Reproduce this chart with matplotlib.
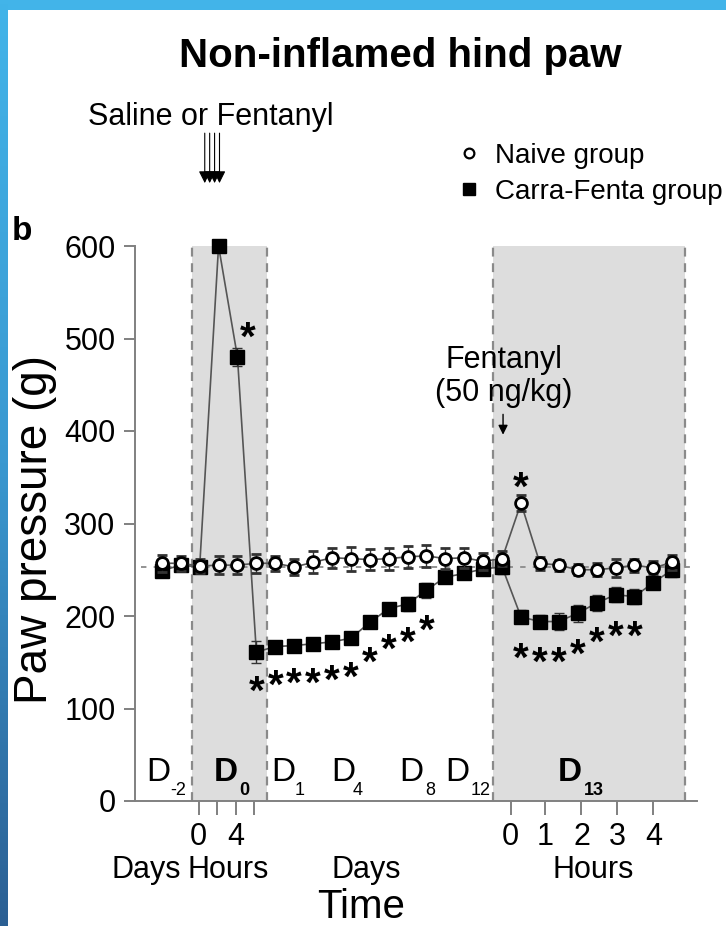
import numpy as np
import matplotlib
matplotlib.use("Agg")
import matplotlib.pyplot as plt
from matplotlib.lines import Line2D

plt.rcParams['font.family'] = ['Liberation Sans', 'DejaVu Sans']

# sampling points: 2 baseline days, D0 (4 hourly reads), D1..D12, D13 (half-hourly reads)
naive = [257, 257, 254, 255, 255, 257, 257, 253, 258, 263, 262, 261, 262, 264,
         265, 262, 263, 259, 262, 322, 257, 255, 250, 250, 252, 255, 252, 258]
naive_err = [9, 8, 8, 10, 10, 10, 8, 9, 12, 11, 13, 11, 12, 12,
             12, 11, 11, 9, 8, 9, 7, 6, 6, 7, 10, 7, 7, 8]
carra = [249, 255, 253, 600, 480, 161, 167, 168, 170, 172, 176, 193, 208, 213,
         228, 242, 246, 251, 253, 199, 194, 194, 203, 214, 223, 221, 236, 250]
carra_err = [6, 6, 6, 0, 10, 12, 6, 6, 6, 6, 6, 6, 6, 8,
             8, 6, 6, 6, 8, 7, 7, 9, 9, 9, 8, 8, 7, 8]

# significance marks (x position, y position)
star_x = [4.55, 5, 6, 7, 8, 9, 10, 11, 12, 13, 14, 19, 19, 20, 21, 22, 23, 24, 25]
star_y = [512, 129, 136, 138, 138, 141, 144, 161, 174, 182, 195, 350,
          165, 161, 161, 169, 182, 189, 189]

tick_pos = [1.95, 2.9, 3.9, 4.85, 18.45, 20.25, 22.2, 24.1, 26.0]
tick_lab = ['0', '', '4', '', '0', '1', '2', '3', '4']

day_labels = ['D', 'D', 'D', 'D', 'D', 'D', 'D']
day_subs = ['-2', '0', '1', '4', '8', '12', '13']
day_bold = [False, True, False, False, False, False, True]
day_x = [-0.8, 2.75, 5.8, 8.95, 12.55, 15.0, 20.95]
sub_x = [0.45, 4.1, 7.05, 10.1, 13.95, 16.35, 22.3]

baseline = 253

fig = plt.figure(figsize=(7.26, 9.26), dpi=100)
ax = fig.add_axes([135/726, 125/926, 562/726, 555/926])
idx = np.arange(len(naive))

# shaded treatment windows and their dashed borders
for x0, x1 in [(1.58, 5.55), (17.5, 27.7)]:
    ax.axvspan(x0, x1, ymin=0, ymax=1, color='#dddddd', lw=0, zorder=0)
    for xv in (x0, x1):
        ax.plot([xv, xv], [0, 600], color='#8a8a8a', lw=1.6,
                ls=(0, (4, 3)), zorder=1, clip_on=False)

ax.plot([-1.1, 28.3], [baseline, baseline], color='#8a8a8a', lw=1.3,
        ls=(0, (3, 4)), zorder=1, clip_on=False)

ax.errorbar(idx, carra, yerr=carra_err, fmt='s', ms=10, mfc='black', mec='black',
            color='#333333', ecolor='#333333', elinewidth=1, capsize=3.5,
            zorder=3, clip_on=False)
ax.plot(idx, carra, color='#555555', lw=1.2, zorder=2, clip_on=False)

ax.errorbar(idx, naive, yerr=naive_err, fmt='o', ms=8.5, mfc='white', mec='black',
            mew=2, ecolor='#333333', elinewidth=1, capsize=3.5, zorder=5,
            clip_on=False)
ax.plot(idx, naive, color='#555555', lw=1.2, zorder=4, clip_on=False)

for sx, sy in zip(star_x, star_y):
    ax.annotate('*', (sx, sy), xytext=(0, -16), textcoords='offset points',
                ha='center', va='baseline', fontsize=29, fontweight='bold',
                annotation_clip=False, zorder=6)

ax.set_xlim(-1.42, 28.31)
ax.set_ylim(0, 600)
ax.set_yticks([0, 100, 200, 300, 400, 500, 600])
ax.set_xticks(tick_pos)
ax.set_xticklabels(tick_lab)
ax.tick_params(axis='both', labelsize=22, color='#808080', width=1.4)
ax.tick_params(axis='y', length=8, pad=6)
ax.tick_params(axis='x', length=10, pad=5)
for s in ['top', 'right']:
    ax.spines[s].set_visible(False)
for s in ['left', 'bottom']:
    ax.spines[s].set_color('#808080')
    ax.spines[s].set_linewidth(1.4)

# day markers along the bottom of the plot
for lab, sub, bold, dx, sx in zip(day_labels, day_subs, day_bold, day_x, sub_x):
    w = 'bold' if bold else 'normal'
    ax.text(dx, 22, lab, fontsize=24, fontweight=w, ha='left', va='baseline')
    ax.text(sx, 6, sub, fontsize=13, fontweight=w, ha='left', va='baseline')

for gx, glab in [(-0.84, 'Days'), (3.5, 'Hours'), (10.8, 'Days'), (22.8, 'Hours')]:
    ax.text(gx, -75, glab, fontsize=22, ha='center', va='center', clip_on=False)
ax.text(10.55, -115, 'Time', fontsize=29, ha='center', va='center', clip_on=False)

fig.text(35/726, 1 - 530/926, 'Paw pressure (g)', fontsize=33, rotation=90,
         ha='center', va='center')
fig.text(400/726, 1 - 56/926, 'Non-inflamed hind paw', fontsize=29,
         fontweight='bold', ha='center', va='center')
fig.text(22/726, 1 - 232/926, 'b', fontsize=24, fontweight='bold',
         ha='center', va='center')

# injection arrows
ax.text(2.6, 740, 'Saline or Fentanyl', fontsize=22, ha='center', va='center',
        clip_on=False)
for ax_x in [2.27, 2.53, 2.79, 3.05]:
    ax.annotate('', xy=(ax_x, 668), xytext=(ax_x, 722), annotation_clip=False,
                arrowprops=dict(arrowstyle='-|>', color='black', lw=0.8,
                                mutation_scale=18, shrinkA=0, shrinkB=0))
ax.text(18.1, 459, 'Fentanyl\n(50 ng/kg)', fontsize=22, ha='center', va='center',
        linespacing=1.1)
ax.annotate('', xy=(18.05, 396), xytext=(18.05, 418),
            arrowprops=dict(arrowstyle='-|>', color='black', lw=1,
                            mutation_scale=14, shrinkA=0, shrinkB=0))

handles = [Line2D([], [], marker='o', ls='none', mfc='white', mec='black', ms=7, mew=1.6),
           Line2D([], [], marker='s', ls='none', mfc='black', mec='black', ms=9)]
ax.legend(handles, ['Naive group', 'Carra-Fenta group'], loc='center left',
          bbox_to_anchor=(455/726, 1 - 174/926), bbox_transform=fig.transFigure,
          frameon=False, fontsize=20, handlelength=1.0, handletextpad=0.45,
          labelspacing=0.35, borderpad=0, borderaxespad=0)

# blue frame along the top and left edges
top = fig.add_axes([0, 1 - 10/926, 1, 10/926])
top.set_facecolor('#42b4e9')
top.set_xticks([])
top.set_yticks([])
for s in top.spines.values():
    s.set_visible(False)
side = fig.add_axes([0, 0, 8/726, 1])
grad = np.linspace(0, 1, 256).reshape(-1, 1)
side.imshow(grad, aspect='auto', cmap=matplotlib.colors.LinearSegmentedColormap.from_list(
    'edge', ['#2b5f93', '#3a98d0', '#42b4e9']), origin='lower')
side.axis('off')

fig.savefig('out.png', dpi=100)
